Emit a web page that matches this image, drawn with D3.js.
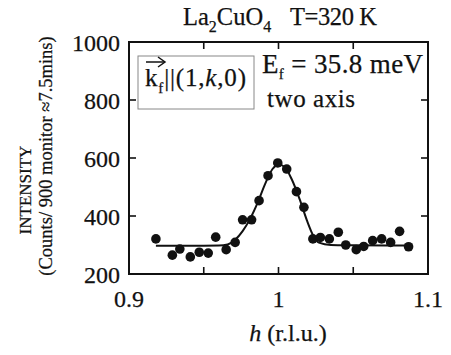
<!DOCTYPE html>
<html>
<head>
<meta charset="utf-8">
<script src="https://cdn.jsdelivr.net/npm/d3@7"></script>
<style>
  body { margin: 0; background: #fff; }
  svg text { font-family: "Liberation Serif", "Times New Roman", serif; fill: #111; stroke: #111; stroke-width: 0.25; }
</style>
</head>
<body>
<div id="chart"></div>
<script>
// measured points, h (r.l.u.) vs counts
const hVals = [0.918, 0.929, 0.934, 0.941, 0.947, 0.953, 0.958, 0.965, 0.971, 0.976,
  0.982, 0.987, 0.993, 0.9995, 1.0055, 1.012, 1.017, 1.023, 1.028, 1.034,
  1.040, 1.045, 1.052, 1.057, 1.063, 1.069, 1.075, 1.081, 1.087];
const counts = [321, 265, 286, 259, 275, 272, 327, 284, 309, 387,
  387, 453, 539, 583, 562, 484, 430, 321, 326, 321,
  344, 300, 284, 295, 315, 321, 309, 347, 294];

// fitted line
const fitH = [0.918, 0.94, 0.96, 0.966, 0.971, 0.976, 0.981, 0.986, 0.991, 0.996, 1.0, 1.004, 1.009, 1.014, 1.019, 1.023, 1.027, 1.035, 1.05, 1.088];
const fitI = [297, 297, 298, 302, 318, 348, 390, 445, 510, 562, 578, 570, 525, 460, 385, 335, 308, 300, 299, 298];

const xTicks = [0.9, 1, 1.1];
const xMinor = [0.95, 1, 1.05];
const yTicks = [200, 400, 600, 800, 1000];

const W = 451, H = 355;
const M = { left: 129, right: 23, top: 42, bottom: 81 };

const svg = d3.select('#chart').append('svg')
  .attr('width', W).attr('height', H);

const x = d3.scaleLinear().domain([0.9, 1.1]).range([M.left, W - M.right]);
const y = d3.scaleLinear().domain([200, 1000]).range([H - M.bottom, M.top]);

const x0 = x.range()[0], x1 = x.range()[1];
const y0 = y.range()[0], y1 = y.range()[1];
const tick = 7;

// frame
svg.append('rect')
  .attr('x', x0).attr('y', y1)
  .attr('width', x1 - x0).attr('height', y0 - y1)
  .attr('fill', 'none').attr('stroke', '#111').attr('stroke-width', 2);

// inward ticks on all four sides
const g = svg.append('g').attr('stroke', '#111').attr('stroke-width', 1.6);
xMinor.forEach(v => {
  g.append('line').attr('x1', x(v)).attr('x2', x(v)).attr('y1', y0).attr('y2', y0 - tick);
  g.append('line').attr('x1', x(v)).attr('x2', x(v)).attr('y1', y1).attr('y2', y1 + tick);
});
yTicks.slice(1, -1).forEach(v => {
  g.append('line').attr('x1', x0).attr('x2', x0 + tick).attr('y1', y(v)).attr('y2', y(v));
  g.append('line').attr('x1', x1).attr('x2', x1 - tick).attr('y1', y(v)).attr('y2', y(v));
});

// tick labels
svg.append('g').selectAll('text').data(yTicks).join('text')
  .attr('x', x0 - 9).attr('y', d => y(d) + 9)
  .attr('text-anchor', 'end').attr('font-size', 24)
  .text(d => d);

svg.append('g').selectAll('text').data(xTicks).join('text')
  .attr('x', d => x(d)).attr('y', y0 + 33)
  .attr('text-anchor', 'middle').attr('font-size', 24)
  .text(d => d);

// axis titles
const xt = svg.append('text')
  .attr('x', 288).attr('y', 341)
  .attr('text-anchor', 'middle').attr('font-size', 24);
xt.append('tspan').attr('font-style', 'italic').text('h');
xt.append('tspan').text(' (r.l.u.)');

svg.append('text')
  .attr('transform', 'translate(31,190) rotate(-90)')
  .attr('text-anchor', 'middle').attr('font-size', 17)
  .text('INTENSITY');
svg.append('text')
  .attr('transform', 'translate(52,156) rotate(-90)')
  .attr('text-anchor', 'middle').attr('font-size', 18.5)
  .text('(Counts/ 900 monitor \u22487.5mins)');

// title
const title = svg.append('text')
  .attr('x', 183).attr('y', 25).attr('font-size', 24.5);
title.append('tspan').text('La');
title.append('tspan').attr('font-size', 16).attr('dy', 7).text('2');
title.append('tspan').attr('dy', -7).text('CuO');
title.append('tspan').attr('font-size', 16).attr('dy', 7).text('4');
svg.append('text')
  .attr('x', 290).attr('y', 25).attr('font-size', 24.5)
  .attr('textLength', 87).attr('lengthAdjust', 'spacing')
  .text('T=320 K');

// legend box
svg.append('rect')
  .attr('x', 138).attr('y', 56).attr('width', 116).attr('height', 53)
  .attr('fill', 'none').attr('stroke', '#888').attr('stroke-width', 1);

const kt = svg.append('text')
  .attr('x', 145).attr('y', 86).attr('font-size', 25)
  .attr('textLength', 101).attr('lengthAdjust', 'spacing');
kt.append('tspan').text('k');
kt.append('tspan').attr('font-size', 15).attr('dy', 7).text('f');
kt.append('tspan').attr('dy', -7).text('||(1,');
kt.append('tspan').attr('font-style', 'italic').text('k');
kt.append('tspan').text(',0)');

// vector arrow over k_f
svg.append('line').attr('x1', 146).attr('x2', 164).attr('y1', 62).attr('y2', 62)
  .attr('stroke', '#111').attr('stroke-width', 1.5);
svg.append('path').attr('d', 'M158,57 L165,62 L158,67')
  .attr('fill', 'none').attr('stroke', '#111').attr('stroke-width', 1.5);

const ef = svg.append('text')
  .attr('x', 262).attr('y', 73).attr('font-size', 27)
  .attr('textLength', 161).attr('lengthAdjust', 'spacing');
ef.append('tspan').text('E');
ef.append('tspan').attr('font-size', 15).attr('dy', 6).text('f');
ef.append('tspan').attr('dy', -6).text(' = 35.8 meV');

svg.append('text')
  .attr('x', 267).attr('y', 107).attr('font-size', 25)
  .attr('textLength', 88).attr('lengthAdjust', 'spacing')
  .text('two axis');

// fit line
const line = d3.line()
  .x((d, i) => x(fitH[i]))
  .y(d => y(d))
  .curve(d3.curveMonotoneX);
svg.append('path')
  .attr('d', line(fitI))
  .attr('fill', 'none').attr('stroke', '#111').attr('stroke-width', 2);

// data points
svg.append('g').selectAll('circle').data(counts).join('circle')
  .attr('cx', (d, i) => x(hVals[i]))
  .attr('cy', d => y(d))
  .attr('r', 4.8)
  .attr('fill', '#111');
</script>
</body>
</html>
